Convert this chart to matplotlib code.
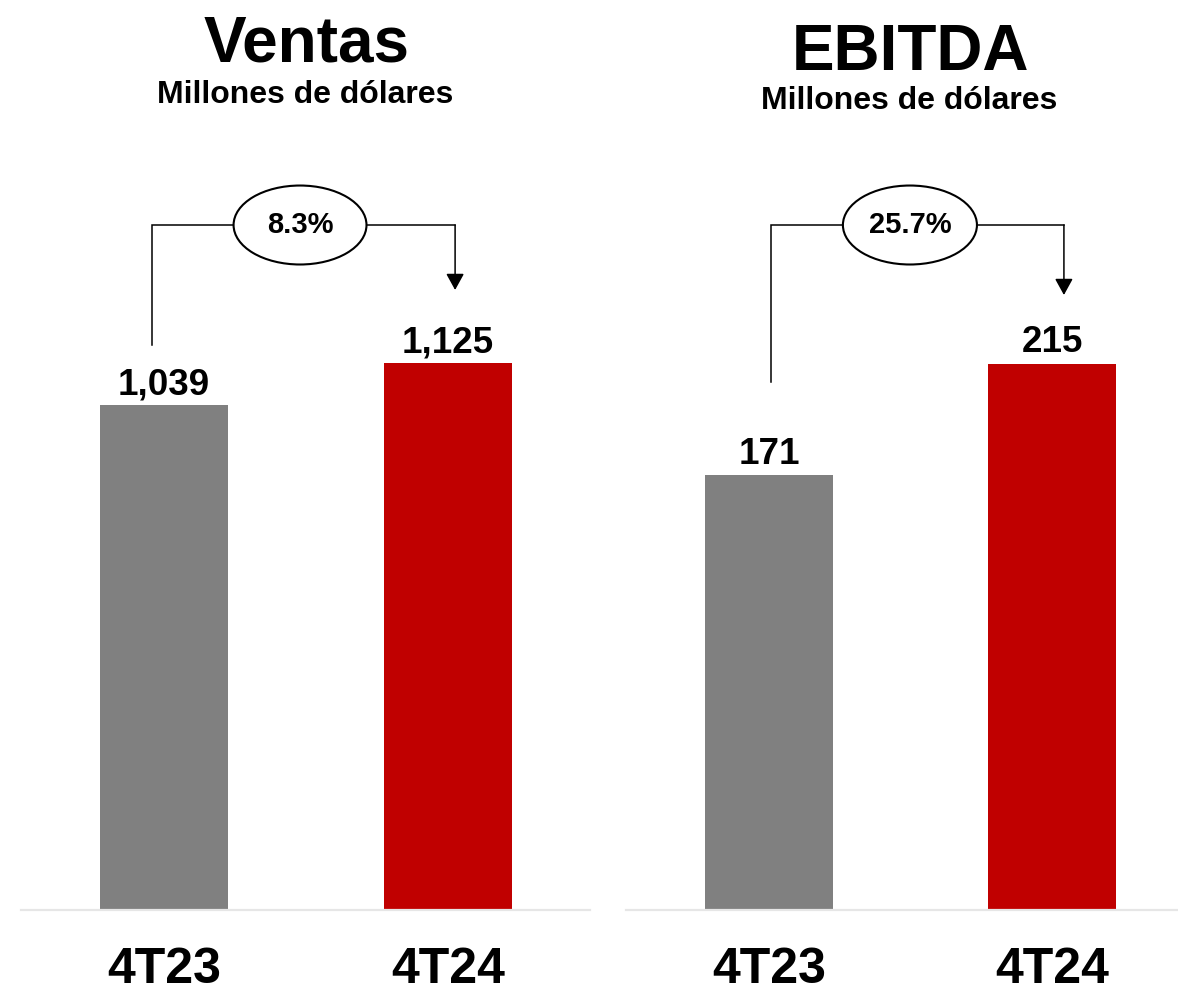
import matplotlib.pyplot as plt
from matplotlib.patches import Ellipse

plt.rcParams['font.family'] = ['Liberation Sans', 'DejaVu Sans']
plt.rcParams['font.weight'] = 'bold'

# Datos (millones de dólares)
periodos = ['4T23', '4T24']
ventas = [1039, 1125]
ebitda = [171, 215]
titulos = ['Ventas', 'EBITDA']
subtitulo = 'Millones de dólares'

colores = ['#808080', '#C00000']
W, H = 1178, 994


def px_box(x0, x1, y_top, y_bot):
    # convierte una caja en pixeles (origen arriba-izquierda) a fracciones de figura
    return [x0 / W, (H - y_bot) / H, (x1 - x0) / W, (y_bot - y_top) / H]


def panel(ax, valores, xlim, ymax, ancho, brk):
    pos = range(len(valores))
    ax.bar(pos, valores, width=ancho, color=colores, zorder=2)
    ax.set_xlim(*xlim)
    ax.set_ylim(0, ymax)
    for s in ['top', 'right', 'left']:
        ax.spines[s].set_visible(False)
    ax.spines['bottom'].set_color('#e6e6e6')
    ax.spines['bottom'].set_linewidth(1.6)
    ax.set_xticks([])
    ax.set_yticks([])

    for i, v in enumerate(valores):
        ax.annotate(f'{v:,}', xy=(i, v), xytext=(0, 8), textcoords='offset points',
                    ha='center', va='baseline', fontsize=26.5, fontweight='bold')
        ax.annotate(periodos[i], xy=(i, 0), xycoords=('data', 'axes fraction'),
                    xytext=(0, -52.5), textcoords='offset points',
                    ha='center', va='baseline', fontsize=36, fontweight='bold')

    # flecha de crecimiento entre periodos
    tr = ax.get_xaxis_transform()
    xl, xr = brk['xl'], brk['xr']
    ax.plot([xl, xl, xr], [brk['y0'], brk['yt'], brk['yt']], transform=tr,
            color='black', lw=1.1, zorder=3, solid_joinstyle='miter')
    ax.annotate('', xy=(xr, brk['tip']), xycoords=tr, xytext=(xr, brk['yt']), textcoords=tr,
                arrowprops=dict(arrowstyle='-|>,head_length=1.0,head_width=0.55',
                                mutation_scale=10, color='black', lw=1.1,
                                shrinkA=0, shrinkB=0))
    ell = Ellipse((brk['ex'], brk['yt']), brk['ew'], brk['eh'], transform=tr,
                  facecolor='white', edgecolor='black', lw=1.5, zorder=4)
    ax.add_patch(ell)
    crec = (valores[1] / valores[0] - 1) * 100
    ax.text(brk['ex'], brk['yt'], f'{crec:.1f}%', transform=tr, ha='center',
            va='center', fontsize=21, fontweight='bold', zorder=5)


fig = plt.figure(figsize=(W / 100, H / 100), dpi=100)

ax1 = fig.add_axes(px_box(21, 590, 150, 910))
panel(ax1, ventas, (-0.5035, 1.5), 1564, 0.4507,
      dict(xl=-0.042, xr=1.025, y0=0.7434, yt=0.9013, tip=0.8158,
           ex=0.479, ew=0.468, eh=0.1039))

ax2 = fig.add_axes(px_box(626, 1178, 150, 910))
panel(ax2, ebitda, (-0.505, 1.445), 299, 0.452,
      dict(xl=0.007, xr=1.042, y0=0.6947, yt=0.9013, tip=0.8092,
           ex=0.498, ew=0.4735, eh=0.1039))

# titulos
fig.text(307 / W, 1 - 62 / H, titulos[0], ha='center', va='baseline', fontsize=46, fontweight='bold')
fig.text(305 / W, 1 - 103 / H, subtitulo, ha='center', va='baseline', fontsize=23, fontweight='bold')
fig.text(910 / W, 1 - 70 / H, titulos[1], ha='center', va='baseline', fontsize=46, fontweight='bold')
fig.text(909 / W, 1 - 109 / H, subtitulo, ha='center', va='baseline', fontsize=23, fontweight='bold')

fig.savefig('out.png', dpi=100, facecolor='white')
